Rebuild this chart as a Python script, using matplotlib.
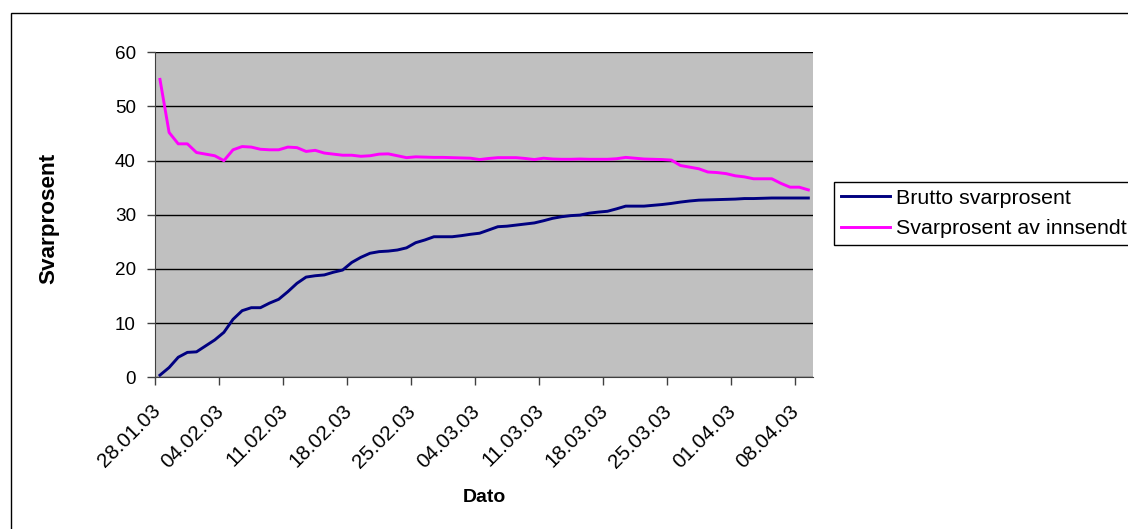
import matplotlib
matplotlib.use("Agg")
import matplotlib.pyplot as plt
import matplotlib.transforms as mtransforms
from matplotlib.patches import Rectangle
import numpy as np
import datetime as dt

plt.rcParams['font.family'] = ['Liberation Sans', 'DejaVu Sans']

start_date = dt.date(2003, 1, 28)
n_days = 72
dates = [start_date + dt.timedelta(days=i) for i in range(n_days)]

brutto = [0.4, 1.8, 3.7, 4.6, 4.7, 5.8, 6.9, 8.3, 10.7, 12.3,
          12.85, 12.85, 13.7, 14.4, 15.8, 17.35, 18.5, 18.75, 18.9, 19.4,
          19.8, 21.2, 22.15, 22.9, 23.2, 23.3, 23.5, 23.9, 24.85, 25.35,
          25.95, 25.95, 25.95, 26.15, 26.4, 26.6, 27.2, 27.8, 27.9, 28.1,
          28.3, 28.5, 28.9, 29.35, 29.65, 29.85, 29.95, 30.3, 30.5, 30.65,
          31.1, 31.6, 31.6, 31.6, 31.75, 31.9, 32.1, 32.35, 32.55, 32.7,
          32.75, 32.8, 32.85, 32.9, 33.0, 33.0, 33.05, 33.1, 33.1, 33.1,
          33.1, 33.1]

innsendt = [55.0, 45.2, 43.1, 43.1, 41.5, 41.2, 40.9, 40.0, 42.0, 42.6,
            42.5, 42.1, 42.0, 42.0, 42.5, 42.4, 41.7, 41.9, 41.4, 41.2,
            41.0, 41.0, 40.8, 40.9, 41.2, 41.25, 40.9, 40.55, 40.7, 40.65,
            40.6, 40.6, 40.55, 40.5, 40.45, 40.2, 40.4, 40.55, 40.55, 40.55,
            40.4, 40.2, 40.45, 40.3, 40.25, 40.25, 40.3, 40.25, 40.25, 40.25,
            40.35, 40.6, 40.45, 40.3, 40.25, 40.2, 40.1, 39.1, 38.8, 38.5,
            37.9, 37.8, 37.6, 37.2, 37.0, 36.65, 36.65, 36.65, 35.8, 35.1,
            35.1, 34.6]

series_labels = ["Brutto svarprosent", "Svarprosent av innsendt"]
y_ticks = [0, 10, 20, 30, 40, 50, 60]
tick_every = 7

W, H = 1128, 529
fig = plt.figure(figsize=(W / 100, H / 100), dpi=100)

# outer chart border
fig.patches.append(Rectangle((10.5 / W, -0.1), 1.2, (H - 12.5) / H + 0.1,
                             transform=fig.transFigure, fill=False,
                             edgecolor='black', linewidth=1.0))

ax = fig.add_axes([155.4 / W, 1 - 377.3 / H, (812.9 - 155.4) / W, (377.3 - 52.3) / H])
ax.set_facecolor('#C0C0C0')

x = np.arange(n_days)
ax.plot(x, brutto, color='#000080', linewidth=2.1, label=series_labels[0], zorder=3)
ax.plot(x, innsendt, color='#FF00FF', linewidth=2.1, label=series_labels[1], zorder=3)

ax.set_xlim(-0.45, n_days - 0.5)
ax.set_ylim(0, 60)
ax.set_yticks(y_ticks)
ax.yaxis.grid(True, color='black', linewidth=1.0)
ax.set_axisbelow(True)

tick_idx = list(range(0, n_days, tick_every))
ax.set_xticks([i - 0.5 for i in tick_idx])
ax.set_xticklabels([dates[i].strftime('%d.%m.%y') for i in tick_idx])

for s in ['top', 'right']:
    ax.spines[s].set_visible(False)
ax.spines['left'].set_color('#404040')
ax.spines['bottom'].set_color('#404040')
ax.tick_params(axis='both', direction='out', length=6, width=1.0, color='#404040',
               labelcolor='black')
ax.tick_params(axis='y', pad=8, labelsize=13.6)
ax.tick_params(axis='x', labelsize=14.8)

offset = mtransforms.ScaledTranslation(-5 / 100, -11 / 100, fig.dpi_scale_trans)
for lbl in ax.get_xticklabels():
    lbl.set_rotation(45)
    lbl.set_ha('right')
    lbl.set_va('top')
    lbl.set_rotation_mode('anchor')
    lbl.set_transform(lbl.get_transform() + offset)

fig.text(484 / W, 1 - 497 / H, 'Dato', ha='center', va='center',
         fontsize=14, fontweight='bold')
fig.text(49 / W, 1 - 218 / H, 'Svarprosent', ha='center', va='center',
         rotation=90, fontsize=16.2, fontweight='bold')

leg = ax.legend(loc='upper left', bbox_to_anchor=(834 / W, 1 - 181.7 / H),
                bbox_transform=fig.transFigure, fontsize=15.4, frameon=True,
                fancybox=False, shadow=False, borderaxespad=0, borderpad=0.33,
                handlelength=2.3, handletextpad=0.28, labelspacing=0.54)
leg.get_frame().set_edgecolor('black')
leg.get_frame().set_linewidth(1.0)
leg.get_frame().set_facecolor('white')
leg.get_frame().set_alpha(1)

fig.savefig('out.png', dpi=100)
